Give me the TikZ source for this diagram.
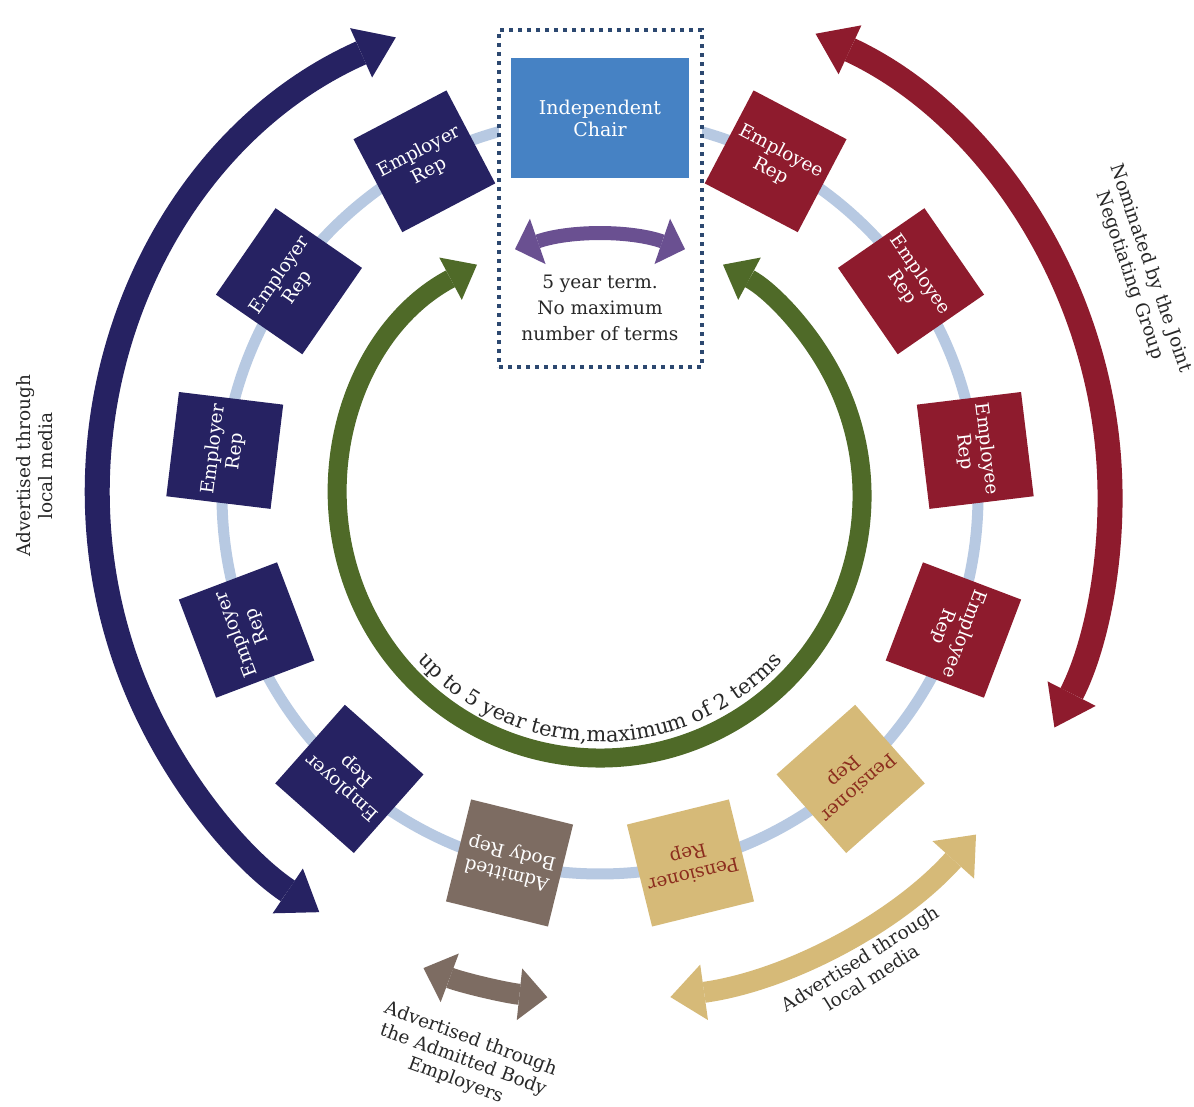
\documentclass[tikz,border=0pt]{standalone}
\usepackage{fontspec}
\setmainfont{DejaVu Serif}
\usetikzlibrary{arrows.meta,decorations.text}
\definecolor{navy}{RGB}{38,34,98}
\definecolor{crim}{RGB}{142,27,45}
\definecolor{olivegreen}{RGB}{79,106,40}
\definecolor{purp}{RGB}{106,80,145}
\definecolor{mud}{RGB}{125,108,98}
\definecolor{sand}{RGB}{214,186,120}
\definecolor{chairblue}{RGB}{70,130,196}
\definecolor{ringblue}{RGB}{183,201,226}
\definecolor{dotblue}{RGB}{44,72,112}
\definecolor{penstext}{RGB}{140,45,30}
\definecolor{txt}{RGB}{40,40,40}
\begin{document}
\begin{tikzpicture}[x=1pt,y=1pt,
  rep/.style={minimum width=105pt, minimum height=105pt, inner sep=0pt, align=center,
    font=\fontsize{18.5}{22}\selectfont, text=white},
  emp/.style={rep, fill=navy},
  empee/.style={rep, fill=crim},
  pen/.style={rep, fill=sand, text=penstext},
  adm/.style={rep, fill=mud},
  lbl/.style={align=center, text=txt, font=\fontsize{18.5}{22}\selectfont, inner sep=0pt},
  frame/.style={draw=dotblue, line width=4pt, dash pattern=on 4pt off 5pt, fill=white,
    minimum width=203pt, minimum height=337pt, inner sep=0pt},
  chairbox/.style={fill=chairblue, text=white, minimum width=178pt, minimum height=120pt,
    inner sep=0pt, align=center, font=\fontsize{19}{22}\selectfont},
]
\fill[white] (0,0) rectangle (1194,1107);
\useasboundingbox (0,0) rectangle (1194,1107);

% ring
\begin{scope}[shift={(600,611)}]
\draw[ringblue, line width=11pt] (0,0) circle[radius=378];
\end{scope}

\node[frame] (frame) at (600.5,908.5) {};
\node[chairbox] (chair) at (600,989) {Independent\\Chair};

\begin{scope}[shift={(600,611)}]
\node[emp, rotate=27.69]   (e1) at (117.69:378) {Employer\\Rep};
\node[emp, rotate=55.38]   (e2) at (145.38:378) {Employer\\Rep};
\node[emp, rotate=83.08]   (e3) at (173.08:378) {Employer\\Rep};
\node[emp, rotate=110.77]  (e4) at (200.77:378) {Employer\\Rep};
\node[emp, rotate=138.46]  (e5) at (228.46:378) {Employer\\Rep};
\node[adm, rotate=166.15]  (ab) at (256.15:378) {Admitted\\Body Rep};
\node[pen, rotate=193.85]  (p1) at (283.85:378) {Pensioner\\Rep};
\node[pen, rotate=221.54]  (p2) at (311.54:378) {Pensioner\\Rep};
\node[empee, rotate=249.23] (r4) at (339.23:378) {Employee\\Rep};
\node[empee, rotate=276.92] (r3) at (6.92:378) {Employee\\Rep};
\node[empee, rotate=304.62] (r2) at (34.62:378) {Employee\\Rep};
\node[empee, rotate=332.31] (r1) at (62.31:378) {Employee\\Rep};

% green inner arrow
\draw[olivegreen, line width=19pt,
  {Triangle[width=48pt,length=30pt,line width=0pt]}-{Triangle[width=48pt,length=30pt,line width=0pt]}]
  (118:262) arc[start angle=118, end angle=422, radius=262];
% purple arrow
\draw[purp, line width=14pt,
  {Triangle[width=48pt,length=24pt,line width=0pt]}-{Triangle[width=48pt,length=24pt,line width=0pt]}]
  (109:261) arc[start angle=109, end angle=71, radius=261];
% navy outer arrow
\draw[navy, line width=25pt,
  {Triangle[width=54pt,length=38pt,line width=0pt]}-{Triangle[width=54pt,length=38pt,line width=0pt]}]
  (114:502) arc[start angle=114, end angle=236, radius=502];
% red outer arrow
\draw[crim, line width=25pt,
  {Triangle[width=54pt,length=38pt,line width=0pt]}-{Triangle[width=54pt,length=38pt,line width=0pt]}]
  (65:510) arc[start angle=65, end angle=-27, radius=510];
% tan arrow
\draw[sand, line width=21pt,
  {Triangle[width=56pt,length=34pt,line width=0pt]}-{Triangle[width=56pt,length=34pt,line width=0pt]}]
  (-82:506) arc[start angle=-82, end angle=-42, radius=506];
% brown arrow
\draw[mud, line width=21pt,
  {Triangle[width=52pt,length=28pt,line width=0pt]}-{Triangle[width=52pt,length=28pt,line width=0pt]}]
  (-110.5:504) arc[start angle=-110.5, end angle=-96, radius=504];

% curved text
\path[decorate, decoration={text along path, text align=center, text color=txt,
  text={|\fontsize{21}{24}\selectfont|up to 5 year term{,}maximum of 2 terms}}]
  (200:246) arc[start angle=200, end angle=340, radius=246];
\end{scope}

\node[lbl, font=\fontsize{18.5}{26}\selectfont] (terms) at (600,799) {5 year term.\\No maximum\\number of terms};
\node[lbl, rotate=90] (leftlbl) at (35,641) {Advertised through\\local media};
\node[lbl, rotate=-71] (rightlbl) at (1140,835) {Nominated by the Joint\\Negotiating Group};
\node[lbl, rotate=-20] (admlbl) at (463,47) {Advertised through\\the Admitted Body\\Employers};
\node[lbl, rotate=32] (penlbl) at (866,139) {Advertised through\\local media};
\end{tikzpicture}
\end{document}
